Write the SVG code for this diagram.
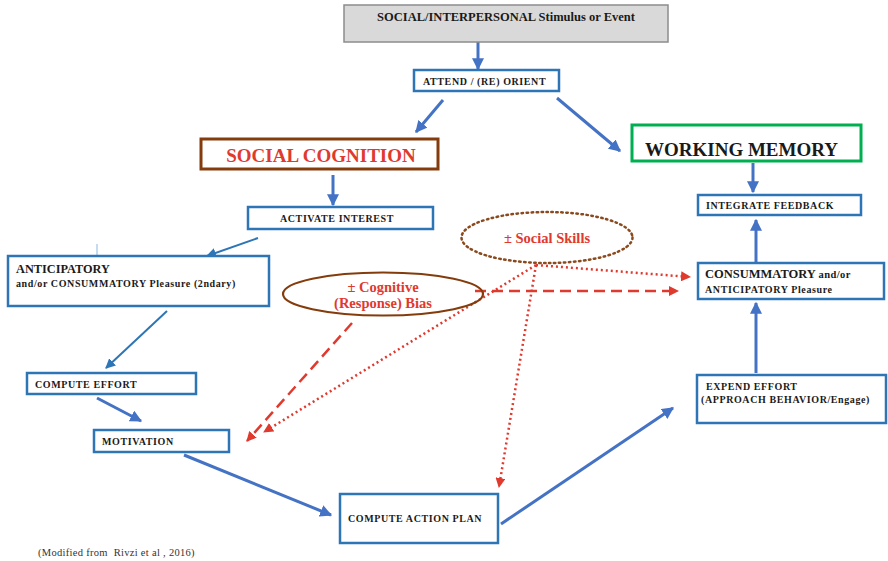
<svg xmlns="http://www.w3.org/2000/svg" width="888" height="561" viewBox="0 0 888 561">
  <style>
    .box { fill: #ffffff; stroke: #2e75b6; stroke-width: 2.5; }
    .lbl { font-family: "Liberation Serif", "Times New Roman", serif; font-weight: bold; fill: #1a1a1a; }
    .sm { font-size: 10px; letter-spacing: 0.6px; }
    .red { fill: #e0392e; }
    .flow { stroke: #4472c4; stroke-width: 3; fill: none; marker-end: url(#ab); }
    .flow2 { stroke: #2e75b6; stroke-width: 2; fill: none; marker-end: url(#ab2); }
    .dash { stroke: #e0392e; stroke-width: 2.5; fill: none; stroke-dasharray: 11 6; marker-end: url(#ar); }
    .dot { stroke: #e0392e; stroke-width: 2.5; fill: none; stroke-dasharray: 2 3; marker-end: url(#ar); }
  </style>
  <defs>
    <marker id="ab" viewBox="0 0 10 10" refX="9" refY="5" markerWidth="4" markerHeight="4" orient="auto" markerUnits="strokeWidth">
      <path d="M0,0 L10,5 L0,10 z" fill="#4472c4"/>
    </marker>
    <marker id="ab2" viewBox="0 0 10 10" refX="9" refY="5" markerWidth="5" markerHeight="5" orient="auto" markerUnits="strokeWidth">
      <path d="M0,0 L10,5 L0,10 z" fill="#2e75b6"/>
    </marker>
    <marker id="ar" viewBox="0 0 10 10" refX="9" refY="5" markerWidth="4" markerHeight="4" orient="auto" markerUnits="strokeWidth">
      <path d="M0,0 L10,5 L0,10 z" fill="#e0392e"/>
    </marker>
  </defs>

  <rect width="888" height="561" fill="#ffffff"/>

  <!-- connectors -->
  <g id="connectors">
    <line class="flow" x1="478" y1="42" x2="478" y2="69"/>
    <line class="flow" x1="443" y1="100" x2="416" y2="132"/>
    <line class="flow" x1="557" y1="98" x2="620" y2="151"/>
    <line class="flow" x1="333" y1="175" x2="333" y2="205"/>
    <line class="flow2" x1="258" y1="238" x2="207" y2="256"/>
    <line x1="97" y1="244" x2="97" y2="255" stroke="#9dc3e6" stroke-width="1.2"/>
    <line class="flow2" x1="167" y1="311" x2="106" y2="368"/>
    <line class="flow" x1="97" y1="398" x2="141" y2="421"/>
    <line class="flow" x1="184" y1="455" x2="331" y2="515"/>
    <line class="flow" x1="501" y1="524" x2="673" y2="408"/>
    <line class="flow" x1="756" y1="373" x2="756" y2="303"/>
    <line class="flow" x1="756" y1="262" x2="756" y2="220"/>
    <line class="flow" x1="753" y1="163" x2="753" y2="192"/>

    <line class="dash" x1="475" y1="291" x2="678" y2="291"/>
    <line class="dash" x1="352" y1="323" x2="247" y2="441"/>
    <line class="dot" x1="536" y1="265" x2="690" y2="277"/>
    <line class="dot" x1="536" y1="265" x2="264" y2="432"/>
    <line class="dot" x1="536" y1="265" x2="499" y2="487"/>
  </g>

  <!-- nodes -->
  <g id="stimulus">
    <rect x="344" y="5" width="324" height="37" fill="#d9d9d9" stroke="#8c8c8c" stroke-width="1.5"/>
    <text class="lbl" x="506" y="21" font-size="12.5" text-anchor="middle">SOCIAL/INTERPERSONAL Stimulus or Event</text>
  </g>
  <g id="attend">
    <rect class="box" x="414" y="70" width="145" height="21"/>
    <text class="lbl sm" x="423" y="85">ATTEND / (RE) ORIENT</text>
  </g>
  <g id="social-cognition">
    <rect x="201" y="139" width="237" height="30" fill="#ffffff" stroke="#843c0c" stroke-width="3"/>
    <text class="lbl red" x="321" y="162" font-size="19" text-anchor="middle">SOCIAL COGNITION</text>
  </g>
  <g id="working-memory">
    <rect x="632" y="125" width="229" height="36" fill="#ffffff" stroke="#00b050" stroke-width="3"/>
    <text class="lbl" x="645" y="156" font-size="19">WORKING MEMORY</text>
  </g>
  <g id="activate-interest">
    <rect class="box" x="248" y="207" width="185" height="22"/>
    <text class="lbl sm" x="337" y="222" text-anchor="middle">ACTIVATE INTEREST</text>
  </g>
  <g id="integrate-feedback">
    <rect class="box" x="698" y="195" width="163" height="20"/>
    <text class="lbl sm" x="706" y="209">INTEGRATE FEEDBACK</text>
  </g>
  <g id="anticipatory">
    <rect class="box" x="8" y="256" width="261" height="50"/>
    <text class="lbl" x="16" y="273" font-size="12.3">ANTICIPATORY</text>
    <text class="lbl sm" x="16" y="287" letter-spacing="0.3">and/or CONSUMMATORY Pleasure (2ndary)</text>
  </g>
  <g id="consummatory">
    <rect class="box" x="698" y="263" width="186" height="36"/>
    <text class="lbl" x="705" y="278" font-size="12.5">CONSUMMATORY <tspan font-size="10.5" letter-spacing="0.4">and/or</tspan></text>
    <text class="lbl sm" x="705" y="293" letter-spacing="0.3">ANTICIPATORY Pleasure</text>
  </g>
  <g id="social-skills">
    <ellipse cx="547" cy="237.5" rx="85.5" ry="25.5" fill="none" stroke="#8b4a1e" stroke-width="2.5" stroke-dasharray="1.5 3.5" stroke-linecap="round"/>
    <text class="lbl red" x="547" y="243" font-size="14.5" text-anchor="middle">± Social Skills</text>
  </g>
  <g id="cognitive-bias">
    <ellipse cx="383" cy="294" rx="100" ry="21.5" fill="none" stroke="#843c0c" stroke-width="2.2"/>
    <text class="lbl red" x="383" y="292" font-size="14.5" text-anchor="middle">± Cognitive</text>
    <text class="lbl red" x="383" y="308" font-size="14.5" text-anchor="middle">(Response) Bias</text>
  </g>
  <g id="compute-effort">
    <rect class="box" x="27" y="373" width="169" height="21"/>
    <text class="lbl sm" x="35" y="388">COMPUTE EFFORT</text>
  </g>
  <g id="expend-effort">
    <rect class="box" x="697" y="375" width="189" height="48"/>
    <text class="lbl sm" x="706" y="390">EXPEND EFFORT</text>
    <text class="lbl sm" x="701" y="403" letter-spacing="0.5">(APPROACH BEHAVIOR/Engage)</text>
  </g>
  <g id="motivation">
    <rect class="box" x="94" y="430" width="135" height="22"/>
    <text class="lbl sm" x="102" y="445">MOTIVATION</text>
  </g>
  <g id="compute-action-plan">
    <rect class="box" x="340" y="494" width="158" height="49"/>
    <text class="lbl sm" x="348" y="522" letter-spacing="0.3">COMPUTE ACTION PLAN</text>
  </g>

  <text x="38" y="556" font-family="Liberation Serif, serif" font-size="10.5" letter-spacing="0.3" fill="#333333" xml:space="preserve">(Modified from  Rivzi et al , 2016)</text>
</svg>
